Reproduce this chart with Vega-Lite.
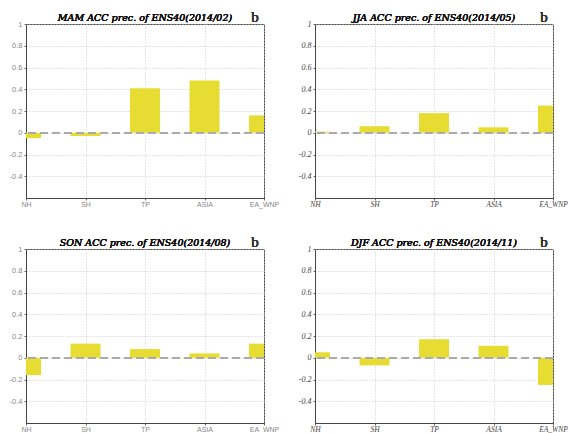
{
  "$schema": "https://vega.github.io/schema/vega-lite/v6.json",
  "padding": {"left": 0, "top": 9, "right": 0, "bottom": 0},
  "background": "white",
  "bounds": "flush",
  "columns": 2,
  "spacing": 51,
  "data": {"values": [
    {"season": "MAM", "region": "NH", "value": -0.05},
    {"season": "MAM", "region": "SH", "value": -0.03},
    {"season": "MAM", "region": "TP", "value": 0.41},
    {"season": "MAM", "region": "ASIA", "value": 0.48},
    {"season": "MAM", "region": "EA_WNP", "value": 0.16},
    {"season": "JJA", "region": "NH", "value": 0.01},
    {"season": "JJA", "region": "SH", "value": 0.06},
    {"season": "JJA", "region": "TP", "value": 0.18},
    {"season": "JJA", "region": "ASIA", "value": 0.05},
    {"season": "JJA", "region": "EA_WNP", "value": 0.25},
    {"season": "SON", "region": "NH", "value": -0.16},
    {"season": "SON", "region": "SH", "value": 0.13},
    {"season": "SON", "region": "TP", "value": 0.08},
    {"season": "SON", "region": "ASIA", "value": 0.04},
    {"season": "SON", "region": "EA_WNP", "value": 0.13},
    {"season": "DJF", "region": "NH", "value": 0.05},
    {"season": "DJF", "region": "SH", "value": -0.07},
    {"season": "DJF", "region": "TP", "value": 0.17},
    {"season": "DJF", "region": "ASIA", "value": 0.11},
    {"season": "DJF", "region": "EA_WNP", "value": -0.25}
  ]},
  "config": {
    "view": {"stroke": "#444", "strokeWidth": 1},
    "axis": {
      "grid": true, "gridColor": "#c8c8c8", "gridDash": [1, 2], "gridWidth": 1,
      "domainColor": "#444", "tickColor": "#666", "tickSize": 2,
      "labelOverlap": false, "title": null
    }
  },
  "concat": [
      {"width": 238, "height": 174,
       "transform": [{"filter": "datum.season === 'MAM'"}],
       "layer": [
         {"mark": {"type": "bar", "width": 30, "color": "#e6dc32", "clip": true},
          "encoding": {
            "x": {"field": "region", "type": "nominal", "sort": ["NH", "SH", "TP", "ASIA", "EA_WNP"], "scale": {"type": "point", "padding": 0},
                  "axis": {"labelAngle": 0, "labelFont": "Liberation Sans", "labelFontSize": 7, "labelColor": "#888", "labelPadding": 0, "minExtent": 11, "maxExtent": 11}},
            "y": {"field": "value", "type": "quantitative", "scale": {"domain": [-0.6, 1], "nice": false, "zero": false},
                  "axis": {"values": [-0.4, -0.2, 0, 0.2, 0.4, 0.6, 0.8, 1], "tickCount": 20, "labelExpr": "'' + datum.value", "labelFont": "Liberation Sans", "labelFontSize": 7.5, "labelColor": "#888", "labelPadding": 2, "minExtent": 25, "maxExtent": 25}}
          }},
         {"mark": {"type": "rule", "color": "#aaaaaa", "strokeDash": [8, 4], "strokeWidth": 1.5}, "encoding": {"y": {"datum": 0}}},
         {"mark": {"type": "text", "text": "MAM ACC prec. of ENS40(2014/02)", "font": "DejaVu Serif", "fontStyle": "italic", "fontSize": 9.5, "color": "#111", "align": "center", "baseline": "alphabetic"},
          "encoding": {"x": {"datum": "TP"}, "y": {"datum": 1.023}}},
         {"mark": {"type": "text", "text": "b", "font": "Liberation Serif", "fontSize": 15, "color": "#333", "align": "center", "baseline": "alphabetic", "dx": -9},
          "encoding": {"x": {"datum": "EA_WNP"}, "y": {"datum": 1.02}}}
       ]},
      {"width": 238, "height": 174,
       "transform": [{"filter": "datum.season === 'JJA'"}],
       "layer": [
         {"mark": {"type": "bar", "width": 30, "color": "#e6dc32", "clip": true},
          "encoding": {
            "x": {"field": "region", "type": "nominal", "sort": ["NH", "SH", "TP", "ASIA", "EA_WNP"], "scale": {"type": "point", "padding": 0},
                  "axis": {"labelAngle": 0, "labelFont": "Liberation Serif", "labelFontStyle": "italic", "labelFontSize": 7.5, "labelColor": "#444", "labelPadding": 0, "minExtent": 11, "maxExtent": 11}},
            "y": {"field": "value", "type": "quantitative", "scale": {"domain": [-0.6, 1], "nice": false, "zero": false},
                  "axis": {"values": [-0.4, -0.2, 0, 0.2, 0.4, 0.6, 0.8, 1], "tickCount": 20, "labelExpr": "'' + datum.value", "labelFont": "Liberation Serif", "labelFontStyle": "italic", "labelFontSize": 8, "labelColor": "#444", "labelPadding": 2, "minExtent": 25, "maxExtent": 25}}
          }},
         {"mark": {"type": "rule", "color": "#aaaaaa", "strokeDash": [8, 4], "strokeWidth": 1.5}, "encoding": {"y": {"datum": 0}}},
         {"mark": {"type": "text", "text": "JJA ACC prec. of ENS40(2014/05)", "font": "DejaVu Serif", "fontStyle": "italic", "fontSize": 9.5, "color": "#111", "align": "center", "baseline": "alphabetic"},
          "encoding": {"x": {"datum": "TP"}, "y": {"datum": 1.023}}},
         {"mark": {"type": "text", "text": "b", "font": "Liberation Serif", "fontSize": 15, "color": "#333", "align": "center", "baseline": "alphabetic", "dx": -9},
          "encoding": {"x": {"datum": "EA_WNP"}, "y": {"datum": 1.02}}}
       ]},
      {"width": 238, "height": 174,
       "transform": [{"filter": "datum.season === 'SON'"}],
       "layer": [
         {"mark": {"type": "bar", "width": 30, "color": "#e6dc32", "clip": true},
          "encoding": {
            "x": {"field": "region", "type": "nominal", "sort": ["NH", "SH", "TP", "ASIA", "EA_WNP"], "scale": {"type": "point", "padding": 0},
                  "axis": {"labelAngle": 0, "labelFont": "Liberation Sans", "labelFontSize": 7, "labelColor": "#888", "labelPadding": 0, "minExtent": 11, "maxExtent": 11}},
            "y": {"field": "value", "type": "quantitative", "scale": {"domain": [-0.6, 1], "nice": false, "zero": false},
                  "axis": {"values": [-0.4, -0.2, 0, 0.2, 0.4, 0.6, 0.8, 1], "tickCount": 20, "labelExpr": "'' + datum.value", "labelFont": "Liberation Sans", "labelFontSize": 7.5, "labelColor": "#888", "labelPadding": 2, "minExtent": 25, "maxExtent": 25}}
          }},
         {"mark": {"type": "rule", "color": "#aaaaaa", "strokeDash": [8, 4], "strokeWidth": 1.5}, "encoding": {"y": {"datum": 0}}},
         {"mark": {"type": "text", "text": "SON ACC prec. of ENS40(2014/08)", "font": "DejaVu Serif", "fontStyle": "italic", "fontSize": 9.5, "color": "#111", "align": "center", "baseline": "alphabetic"},
          "encoding": {"x": {"datum": "TP"}, "y": {"datum": 1.023}}},
         {"mark": {"type": "text", "text": "b", "font": "Liberation Serif", "fontSize": 15, "color": "#333", "align": "center", "baseline": "alphabetic", "dx": -9},
          "encoding": {"x": {"datum": "EA_WNP"}, "y": {"datum": 1.02}}}
       ]},
      {"width": 238, "height": 174,
       "transform": [{"filter": "datum.season === 'DJF'"}],
       "layer": [
         {"mark": {"type": "bar", "width": 30, "color": "#e6dc32", "clip": true},
          "encoding": {
            "x": {"field": "region", "type": "nominal", "sort": ["NH", "SH", "TP", "ASIA", "EA_WNP"], "scale": {"type": "point", "padding": 0},
                  "axis": {"labelAngle": 0, "labelFont": "Liberation Serif", "labelFontStyle": "italic", "labelFontSize": 7.5, "labelColor": "#444", "labelPadding": 0, "minExtent": 11, "maxExtent": 11}},
            "y": {"field": "value", "type": "quantitative", "scale": {"domain": [-0.6, 1], "nice": false, "zero": false},
                  "axis": {"values": [-0.4, -0.2, 0, 0.2, 0.4, 0.6, 0.8, 1], "tickCount": 20, "labelExpr": "'' + datum.value", "labelFont": "Liberation Serif", "labelFontStyle": "italic", "labelFontSize": 8, "labelColor": "#444", "labelPadding": 2, "minExtent": 25, "maxExtent": 25}}
          }},
         {"mark": {"type": "rule", "color": "#aaaaaa", "strokeDash": [8, 4], "strokeWidth": 1.5}, "encoding": {"y": {"datum": 0}}},
         {"mark": {"type": "text", "text": "DJF ACC prec. of ENS40(2014/11)", "font": "DejaVu Serif", "fontStyle": "italic", "fontSize": 9.5, "color": "#111", "align": "center", "baseline": "alphabetic"},
          "encoding": {"x": {"datum": "TP"}, "y": {"datum": 1.023}}},
         {"mark": {"type": "text", "text": "b", "font": "Liberation Serif", "fontSize": 15, "color": "#333", "align": "center", "baseline": "alphabetic", "dx": -9},
          "encoding": {"x": {"datum": "EA_WNP"}, "y": {"datum": 1.02}}}
       ]}
  ]
}
